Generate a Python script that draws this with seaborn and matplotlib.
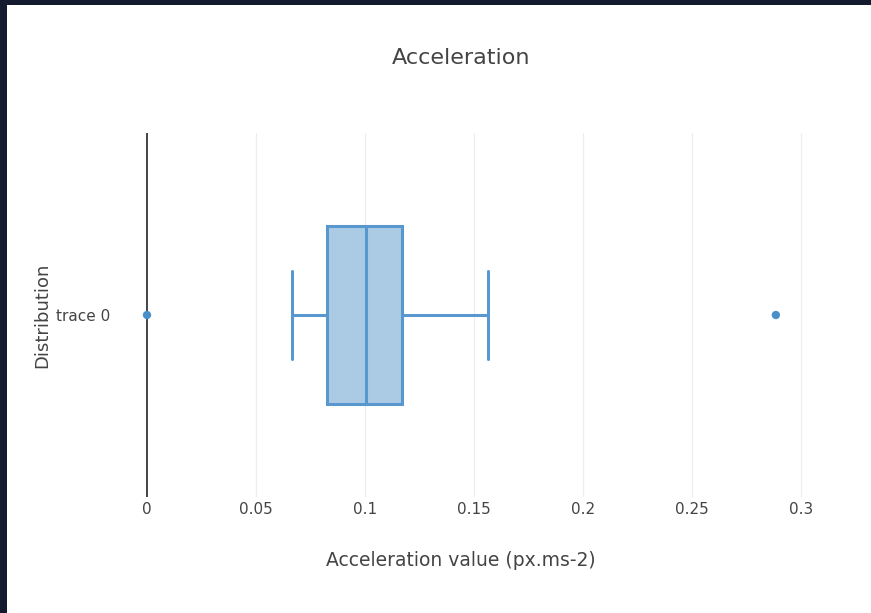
import matplotlib
matplotlib.use("Agg")
import matplotlib.pyplot as plt
import matplotlib.patches as mpatches
import seaborn as sns
import pandas as pd

# ---- data ----
trace_names = ["trace 0"]
box_q1 = [0.0824]
box_median = [0.1003]
box_q3 = [0.1172]
whisker_low = [0.0664]
whisker_high = [0.1566]
outlier_values = [0.0, 0.2885]
outlier_trace = ["trace 0", "trace 0"]
x_ticks = [0, 0.05, 0.1, 0.15, 0.2, 0.25, 0.3]
x_tick_labels = ["0", "0.05", "0.1", "0.15", "0.2", "0.25", "0.3"]

sns.set_theme(style="white")
plt.rcParams["font.family"] = ["DejaVu Sans"]

LINE = "#5898cf"
FILL = "#abcbe5"
TXT = "#444444"

W, H = 871, 613
fig = plt.figure(figsize=(W / 100, H / 100), dpi=100)
fig.patch.set_facecolor("#151b2e")
fig.patches.append(mpatches.Rectangle((7 / W, 0), 1 - 7 / W, 1 - 5 / H,
                                      transform=fig.transFigure,
                                      facecolor="white", edgecolor="none", zorder=-10))

L, R, T, B = 113, 809, 133, 497
ax = fig.add_axes([L / W, (H - B) / H, (R - L) / W, (B - T) / H])
ax.set_facecolor("none")
ax.set_zorder(5)

stats = []
for i, name in enumerate(trace_names):
    stats.append(dict(label=name, q1=box_q1[i], med=box_median[i], q3=box_q3[i],
                      whislo=whisker_low[i], whishi=whisker_high[i], fliers=[]))

ax.bxp(stats, positions=list(range(len(trace_names))), widths=0.49,
       capwidths=0.24, orientation="horizontal", patch_artist=True,
       showfliers=False,
       boxprops=dict(facecolor=FILL, edgecolor=LINE, linewidth=2.2),
       medianprops=dict(color=LINE, linewidth=2.2, solid_capstyle="butt"),
       whiskerprops=dict(color=LINE, linewidth=2.2),
       capprops=dict(color=LINE, linewidth=2.2),
       zorder=3)

pos_map = {n: i for i, n in enumerate(trace_names)}
df_out = pd.DataFrame({"value": outlier_values,
                       "pos": [pos_map[t] for t in outlier_trace]})
sns.scatterplot(data=df_out, x="value", y="pos", ax=ax, color="#4a90c8",
                s=36, edgecolor="none", zorder=5, legend=False)

ax.set_xlim(-0.0156, 0.3037)
ax.set_ylim(-0.5, 0.5)
ax.set_xticks(x_ticks)
ax.set_xticklabels(x_tick_labels)
ax.set_yticks(list(range(len(trace_names))))
ax.set_yticklabels(trace_names)

for xv in x_ticks[1:]:
    ax.axvline(xv, color="#eeeeee", linewidth=0.9, zorder=1)
ax.axvline(0, color="#444444", linewidth=1.4, zorder=2)

for s in ax.spines.values():
    s.set_visible(False)
ax.tick_params(axis="x", length=0, pad=3.5, labelsize=11, labelcolor=TXT)
ax.tick_params(axis="y", length=0, pad=2, labelsize=11, labelcolor=TXT)
ax.set_xlabel("")
ax.set_ylabel("")

fig.text(461 / W, 1 - 58 / H, "Acceleration", ha="center", va="center",
         fontsize=16, color=TXT)
fig.text(461 / W, 1 - 560 / H, "Acceleration value (px.ms-2)", ha="center",
         va="center", fontsize=13.5, color=TXT)
fig.text(42 / W, 1 - 315 / H, "Distribution", ha="center", va="center",
         rotation=90, fontsize=13, color=TXT)

fig.savefig("out.png", dpi=100, facecolor=fig.get_facecolor())
